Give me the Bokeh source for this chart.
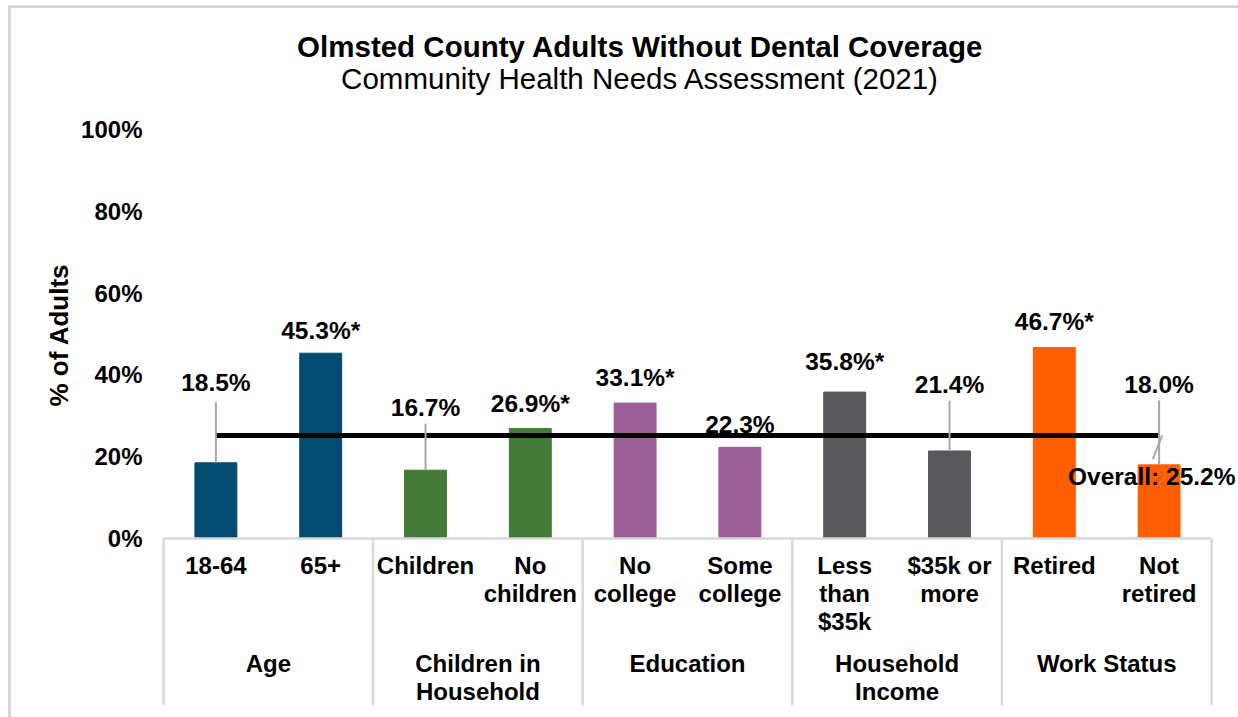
import numpy as np
from bokeh.plotting import figure
from bokeh.models import (ColumnDataSource, FactorRange, Range1d, FixedTicker,
                          PrintfTickFormatter, Title, InlineStyleSheet)
from bokeh.core.properties import value
from bokeh.embed import file_html
from bokeh.resources import INLINE

# ---------------- data ----------------
groups = ["Age", "Children in Household", "Education", "Household Income", "Work Status"]
group_labels = ["Age", "Children in\nHousehold", "Education", "Household\nIncome", "Work Status"]
category_group = ["Age", "Age",
                  "Children in Household", "Children in Household",
                  "Education", "Education",
                  "Household Income", "Household Income",
                  "Work Status", "Work Status"]
categories = ["18-64", "65+", "Children", "No children", "No college", "Some college",
              "Less than $35k", "$35k or more", "Retired", "Not retired"]
category_labels = ["18-64", "65+", "Children", "No\nchildren", "No\ncollege", "Some\ncollege",
                   "Less\nthan\n$35k", "$35k or\nmore", "Retired", "Not\nretired"]
values = [18.5, 45.3, 16.7, 26.9, 33.1, 22.3, 35.8, 21.4, 46.7, 18.0]
significant = [False, True, False, True, True, False, True, False, True, False]
overall = 25.2
y_ticks = [0, 20, 40, 60, 80, 100]

title = "Olmsted County Adults Without Dental Coverage"
subtitle = "Community Health Needs Assessment (2021)"
y_title = "% of Adults"

# ---------------- styles / layout ----------------
group_colors = {"Age": "#034B70", "Children in Household": "#447A37", "Education": "#9A5E95",
                "Household Income": "#59585D", "Work Status": "#FF5F00"}
label_lift = [19.6, 5.6, 15.3, 6.1, 6.3, 5.6, 7.5, 16.3, 6.4, 19.7]
leader_top = {0: 33.3, 2: 28.1, 7: 33.7, 9: 33.7}
cat_rows = [-6.6, -13.4, -20.3]      # y of 1st/2nd/3rd line of category labels
group_rows = [-30.6, -37.4]          # y of 1st/2nd line of group labels
FONT = "Liberation Sans"

factors = list(zip(category_group, categories))
colors = [group_colors[g] for g in category_group]
label_text = [f"{v:.1f}%" + ("*" if s else "") for v, s in zip(values, significant)]

src = ColumnDataSource(dict(x=factors, top=values, color=colors,
                            label=label_text,
                            label_y=[v + l for v, l in zip(values, label_lift)]))

x_range = FactorRange(factors=factors, factor_padding=0, group_padding=0,
                      range_padding=0.2577, range_padding_units="absolute")
y_range = Range1d(-43.77, 131.54)

p = figure(width=1238, height=717, x_range=x_range, y_range=y_range,
           output_backend="svg", toolbar_location=None, x_axis_location=None,
           min_border_left=136, min_border_right=0, min_border_top=0, min_border_bottom=0,
           tools="")
p.outline_line_color = None
p.grid.visible = False
p.background_fill_color = "white"
p.border_fill_color = "white"

yaxis = p.yaxis[0]
yaxis.ticker = FixedTicker(ticks=y_ticks)
yaxis.formatter = PrintfTickFormatter(format="%d%%")
yaxis.axis_line_color = None
yaxis.major_tick_line_color = None
yaxis.minor_tick_line_color = None
yaxis.major_tick_out = 0
yaxis.major_tick_in = 0
yaxis.major_label_standoff = -6
yaxis.major_label_text_font = FONT
yaxis.major_label_text_font_style = "bold"
yaxis.major_label_text_font_size = "24px"
yaxis.major_label_text_color = "black"

# y axis title
p.add_layout(Title(text=y_title, align="left", offset=311, standoff=10,
                   text_font=FONT, text_font_style="bold", text_font_size="26px",
                   text_color="black"), "left")

# bars
p.vbar(x="x", top="top", width=0.4, color="color", source=src)

# overall line
p.line(x=[factors[0], factors[-1]], y=[overall, overall], line_color="black", line_width=5)

# leader lines for offset labels
lead_idx = sorted(leader_top)
p.segment(x0=[factors[i] for i in lead_idx], y0=[values[i] for i in lead_idx],
          x1=[factors[i] for i in lead_idx], y1=[leader_top[i] for i in lead_idx],
          line_color="#A6A6A6", line_width=2)
# leader for overall label
p.segment(x0=[(factors[-1][0], factors[-1][1], 0.03)], y0=[overall],
          x1=[(factors[-1][0], factors[-1][1], -0.06)], y1=[19.4],
          line_color="#A6A6A6", line_width=2)

# data labels
p.text(x="x", y="label_y", text="label", source=src, text_align="center",
       text_baseline="middle", text_font=value(FONT), text_font_style="bold",
       text_font_size="24.5px", text_color="black")

# overall label
p.text(x=[(factors[-1][0], factors[-1][1], -0.07)], y=[15.2], text=[f"Overall: {overall}%"],
       text_align="center", text_baseline="middle", text_font=value(FONT),
       text_font_style="bold", text_font_size="24.5px", text_color="black")

# category axis box
bounds = [0]
for g in groups:
    bounds.append(bounds[-1] + category_group.count(g))
p.segment(x0=bounds, y0=[0] * len(bounds), x1=bounds, y1=[-40.8] * len(bounds),
          line_color="#D9D9D9", line_width=2.5)
p.segment(x0=[bounds[0]], y0=[0], x1=[bounds[-1]], y1=[0], line_color="#D9D9D9", line_width=2.5)

# category labels, one text per line
cx, cy, ct = [], [], []
for f, lab in zip(factors, category_labels):
    for k, line in enumerate(lab.split("\n")):
        cx.append(f); cy.append(cat_rows[k]); ct.append(line)
p.text(x=cx, y=cy, text=ct, text_align="center", text_baseline="middle",
       text_font=value(FONT), text_font_style="bold", text_font_size="24px",
       text_color="black")

gx, gy, gt = [], [], []
for g, lab in zip(groups, group_labels):
    for k, line in enumerate(lab.split("\n")):
        gx.append(g); gy.append(group_rows[k]); gt.append(line)
p.text(x=gx, y=gy, text=gt, text_align="center", text_baseline="middle",
       text_font=value(FONT), text_font_style="bold", text_font_size="24px",
       text_color="black")

# titles
p.text(x=[4.55], y=[120.3], text=[title], text_align="center", text_baseline="middle",
       text_font=value(FONT), text_font_style="bold", text_font_size="29.5px", text_color="black")
p.text(x=[4.55], y=[112.5], text=[subtitle], text_align="center", text_baseline="middle",
       text_font=value(FONT), text_font_size="29.5px", text_color="black")

# outer light frame of the chart
p.stylesheets = [InlineStyleSheet(css=(
    ":host { position: relative; }"
    ":host::after { content: ''; position: absolute; left: 8px; top: 5px; right: 0; bottom: 0;"
    " border-left: 3px solid #D9D9D9; border-top: 3px solid #D9D9D9;"
    " pointer-events: none; z-index: 10; }"))]

open("out.html", "w").write(file_html(p, INLINE))
